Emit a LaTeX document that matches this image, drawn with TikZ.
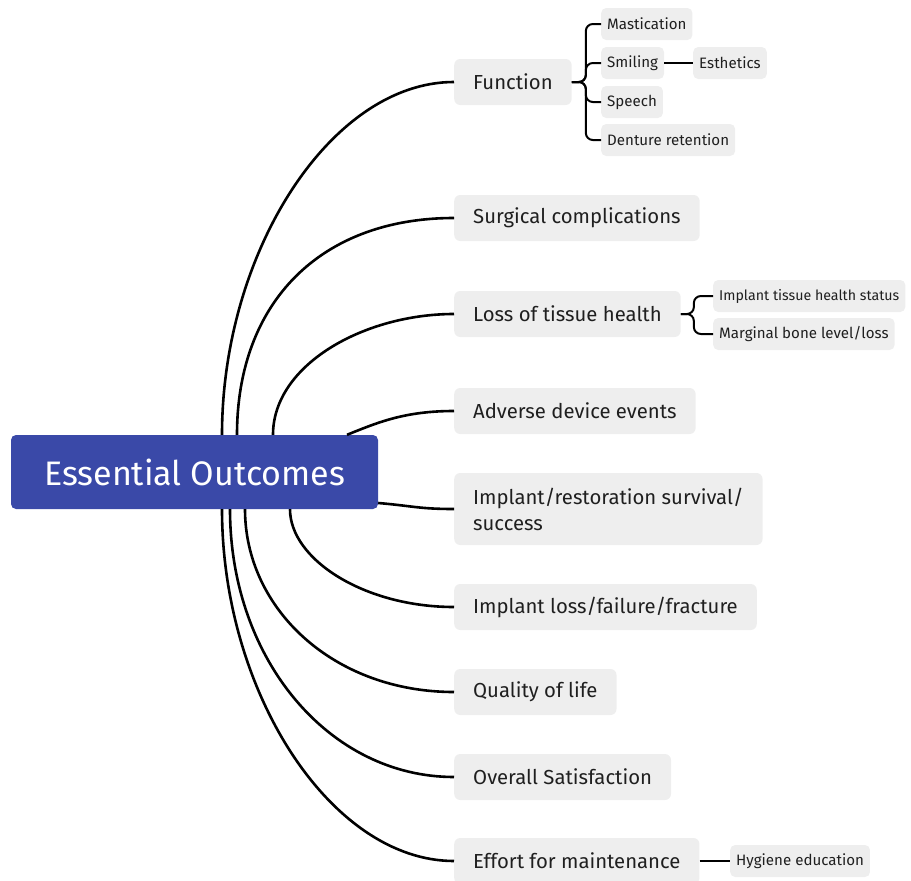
\documentclass[tikz,border=0pt]{standalone}
\usepackage{fontspec}
\setmainfont{Fira Sans}
\usepackage{tikz}
\usetikzlibrary{calc}

\definecolor{rootblue}{HTML}{3A49A8}
\definecolor{boxgray}{HTML}{EEEEEE}
\definecolor{textdark}{HTML}{1F1F1F}

\tikzset{
	central/.style={fill=rootblue,text=white,rounded corners=5pt,minimum width=367pt,minimum height=74pt,font=\fontsize{34}{40}\selectfont},
	topic/.style={fill=boxgray,text=textdark,rounded corners=6pt,anchor=west,minimum height=46pt,inner xsep=19pt,font=\fontsize{20.3}{26}\selectfont},
	subtopic/.style={fill=boxgray,text=textdark,rounded corners=5pt,anchor=west,minimum height=32pt,inner xsep=6pt,font=\fontsize{15.1}{18}\selectfont},
	branch/.style={draw=black,line width=2.6pt},
	twig/.style={draw=black,line width=2pt,rounded corners=7pt},
}

\begin{document}
\begin{tikzpicture}[x=1pt,y=-1pt]
		\useasboundingbox (0,0) rectangle (911,881);
		\clip (0,0) rectangle (911,881);
		
		\node[central] (root) at (194.5,472) {Essential Outcomes};
		
		\node[topic] (fn) at (454,82) {Function};
		\node[topic] (surg) at (454,218) {Surgical complications};
		\node[topic] (loss) at (454,314) {Loss of tissue health};
		\node[topic] (adv) at (454,411) {Adverse device events};
		\node[topic,minimum height=72pt,align=left] (surv) at (454,509) {Implant/restoration survival/\\success};
		\node[topic] (fail) at (454,607) {Implant loss/failure/fracture};
		\node[topic] (qol) at (454,692) {Quality of life};
		\node[topic] (sat) at (454,777) {Overall Satisfaction};
		\node[topic] (effort) at (454,861) {Effort for maintenance};
		
		\node[subtopic] (mast) at (601,24) {Mastication};
		\node[subtopic] (smile) at (601,63) {Smiling};
		\node[subtopic] (esth) at (693,63) {Esthetics};
		\node[subtopic] (speech) at (601,102) {Speech};
		\node[subtopic] (dent) at (601,140) {Denture retention};
		\node[subtopic,font=\fontsize{14.2}{18}\selectfont] (status) at (713,296) {Implant tissue health status};
		\node[subtopic] (bone) at (713,334) {Marginal bone level/loss};
		\node[subtopic] (hyg) at (730,861) {Hygiene education};
		
		\draw[branch] ($(root.north)+(27.5,0)$) .. controls +(0,-183) and +(-123,0) .. (fn.west);
		\draw[branch] ($(root.north)+(42.5,0)$) .. controls +(0,-133) and +(-133,0) .. (surg.west);
		\draw[branch] ($(root.north)+(78.5,0)$) .. controls +(0,-70) and +(-90,0) .. (loss.west);
		\draw[branch] ($(root.north)+(152.5,0)$) .. controls +(30,-12) and +(-50,0) .. (adv.west);
		\draw[branch] ($(root.east)+(0,31)$) .. controls +(35,3) and +(-35,0) .. (surv.west);
		\draw[branch] ($(root.south)+(95.5,0)$) .. controls +(0,50) and +(-90,0) .. (fail.west);
		\draw[branch] ($(root.south)+(50.5,0)$) .. controls +(0,100) and +(-120,0) .. (qol.west);
		\draw[branch] ($(root.south)+(35.5,0)$) .. controls +(0,150) and +(-125,0) .. (sat.west);
		\draw[branch] ($(root.south)+(27.5,0)$) .. controls +(0,183) and +(-123,0) .. (effort.west);
		
		\draw[twig] (fn.east) -- ++(14,0) |- (mast.west);
		\draw[twig] (fn.east) -- ++(14,0) |- (smile.west);
		\draw[twig] (fn.east) -- ++(14,0) |- (speech.west);
		\draw[twig] (fn.east) -- ++(14,0) |- (dent.west);
		\draw[twig] (smile.east) -- (esth.west);
		\draw[twig] (loss.east) -- ++(13,0) |- (status.west);
		\draw[twig] (loss.east) -- ++(13,0) |- (bone.west);
		\draw[twig] (effort.east) -- (hyg.west);
	\end{tikzpicture}
\end{document}
